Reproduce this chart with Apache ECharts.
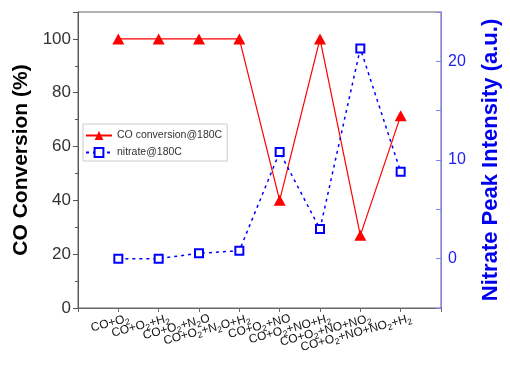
<!DOCTYPE html>
<html><head><meta charset="utf-8">
<script src="https://cdn.jsdelivr.net/npm/echarts@6/dist/echarts.min.js"></script>
<style>html,body{margin:0;padding:0;background:#fff}#c{width:510px;height:372px}</style>
</head><body><div id="c"></div>
<script>
// categories (rich-text subscripts marked with {s|...})
var categories = [
  'CO+O{s|2}',
  'CO+O{s|2}+H{s|2}',
  'CO+O{s|2}+N{s|2}O',
  'CO+O{s|2}+N{s|2}O+H{s|2}',
  'CO+O{s|2}+NO',
  'CO+O{s|2}+NO+H{s|2}',
  'CO+O{s|2}+NO+NO{s|2}',
  'CO+O{s|2}+NO+NO{s|2}+H{s|2}'
];
var coConversion = [100, 100, 100, 100, 40, 100, 27, 71.4];
var nitrate = [0, 0, 0.55, 0.8, 10.8, 3.0, 21.3, 8.8];
var leftTicks = [0, 20, 40, 60, 80, 100];
var rightTicks = [0, 10, 20];

function pairs(arr){ return arr.map(function(v,i){ return [i+1, v]; }); }

var FONT = 'Liberation Sans, Arial';
var chart = echarts.init(document.getElementById('c'), null, {renderer:'canvas'});
chart.setOption({
  animation:false,
  backgroundColor:'#fff',
  grid:{left:78, right:68, top:12, bottom:64, show:true, borderColor:'#666', borderWidth:1, backgroundColor:'transparent'},
  legend:{
    left:83, top:124, orient:'vertical', itemGap:6,
    borderColor:'#ccc', borderWidth:1, padding:[6,5,3,2],
    itemWidth:26, itemHeight:11,
    textStyle:{fontFamily:FONT, fontSize:10.5, color:'#333'},
    data:['CO conversion@180C','nitrate@180C']
  },
  xAxis:{
    type:'value', min:0, max:9, interval:1,
    axisLine:{lineStyle:{color:'#666'}},
    axisTick:{show:true, length:4, lineStyle:{color:'#666'}},
    splitLine:{show:false},
    axisLabel:{
      rotate:15, margin:13, fontFamily:FONT, fontSize:12, color:'#111',
      padding:[0,-11,0,0],
      formatter:function(v){ var i=Math.round(v)-1; return (i>=0 && i<categories.length)? categories[i] : ''; },
      rich:{ s:{fontSize:8.5, padding:[7,0,0,0], fontFamily:FONT, color:'#111'} }
    }
  },
  yAxis:[
    {
      type:'value', min:0, max:110, interval:20, position:'left',
      name:'CO Conversion (%)', nameLocation:'middle', nameGap:44,
      nameTextStyle:{fontFamily:FONT, fontWeight:'bold', fontSize:21, color:'#000'},
      axisLine:{show:true, lineStyle:{color:'#555'}},
      axisTick:{show:true, length:5, lineStyle:{color:'#555'}},
      minorTick:{show:true, splitNumber:2, length:3, lineStyle:{color:'#555'}},
      splitLine:{show:false},
      axisLabel:{fontFamily:FONT, fontSize:17, color:'#333', margin:7,
        formatter:function(v){ return leftTicks.indexOf(v)>=0 ? String(v) : ''; }}
    },
    {
      type:'value', min:-5, max:25, interval:5, position:'right',
      name:'Nitrate Peak Intensity (a.u.)', nameLocation:'middle', nameGap:39, nameRotate:90,
      nameTextStyle:{fontFamily:FONT, fontWeight:'bold', fontSize:22, color:'#0000ee'},
      axisLine:{show:true, lineStyle:{color:'#8080ff'}},
      axisTick:{show:true, inside:true, length:5, lineStyle:{color:'#8080ff'}},
      splitLine:{show:false},
      axisLabel:{fontFamily:FONT, fontSize:16, color:'#2222ee', margin:7,
        formatter:function(v){ return rightTicks.indexOf(v)>=0 ? String(v) : ''; }}
    }
  ],
  series:[
    {
      name:'CO conversion@180C', type:'line', yAxisIndex:0, data:pairs(coConversion),
      symbol:'triangle', symbolSize:[12,11],
      itemStyle:{color:'#ff0000'}, lineStyle:{color:'#ff0000', width:1.2}
    },
    {
      name:'nitrate@180C', type:'line', yAxisIndex:1, data:pairs(nitrate),
      symbol:'rect', symbolSize:8,
      itemStyle:{color:'#fff', borderColor:'#0000ff', borderWidth:2},
      lineStyle:{color:'#0000ff', width:1.5, type:[3,4]}
    }
  ]
});
</script></body></html>
